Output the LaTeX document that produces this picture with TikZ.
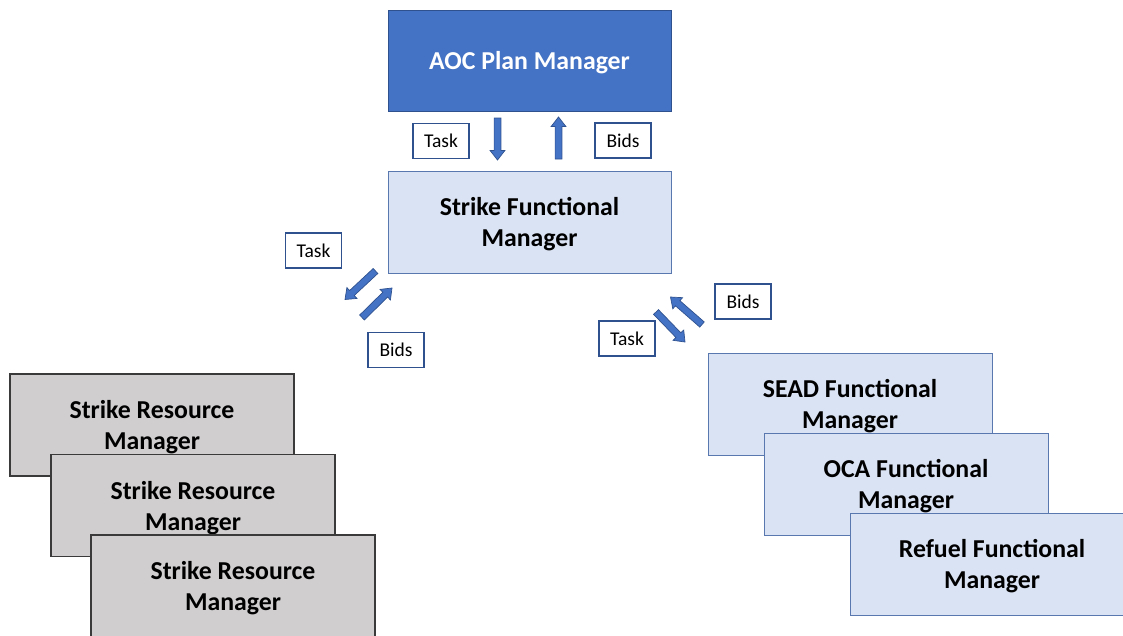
\documentclass[tikz,border=0pt]{standalone}
\usepackage{fontspec}
\setmainfont{Carlito}
\usetikzlibrary{calc}

\definecolor{accent}{HTML}{4472C4}
\definecolor{accentdark}{HTML}{2F528F}
\definecolor{paleblue}{HTML}{DAE3F3}
\definecolor{paleedge}{HTML}{5A78B0}
\definecolor{greyfill}{HTML}{D0CECE}
\definecolor{greyedge}{HTML}{3A3A3A}

\tikzset{
  mgr/.style={rectangle, font=\bfseries\fontsize{25.8}{31}\selectfont, align=center, inner sep=0pt, text depth=0pt},
  planbox/.style={mgr, fill=accent, draw=accentdark, line width=1pt, text=white},
  funcbox/.style={mgr, fill=paleblue, draw=paleedge, line width=1pt, text=black},
  resbox/.style={mgr, fill=greyfill, draw=greyedge, line width=1.1pt, text=black},
  tag/.style={rectangle, fill=white, draw=accentdark, line width=1.5pt, font=\fontsize{19.5}{23}\selectfont, minimum width=56pt, minimum height=35pt, inner sep=0pt},
  barrow/.style={fill=accent, draw=accentdark, line width=0.7pt, line join=miter},
}

% block arrow from tail #1 to tip #2, #3 is a unique prefix
\newcommand\blockarrow[3]{%
  \coordinate (#3neck) at ($(#2)!9.5pt!(#1)$);
  \filldraw[barrow]
    ($(#1)!3.4pt!90:(#2)$) -- ($(#3neck)!3.4pt!90:(#2)$) --
    ($(#3neck)!7.4pt!90:(#2)$) -- (#2) --
    ($(#3neck)!7.4pt!-90:(#2)$) -- ($(#3neck)!3.4pt!-90:(#2)$) --
    ($(#1)!3.4pt!-90:(#2)$) -- cycle;
}

\begin{document}
\begin{tikzpicture}[x=1pt,y=-1pt]
\useasboundingbox (0,0) rectangle (1123,635);

% top level planner
\node[planbox, minimum width=283pt, minimum height=101pt] (aoc) at (529.5,60.5) {AOC Plan Manager};
\node[funcbox, minimum width=283pt, minimum height=102pt] (sfm) at (529.5,222) {Strike Functional\\Manager};

% stacked resource managers (left)
\node[resbox, minimum width=284pt, minimum height=102pt] (res1) at (152,425) {Strike Resource\\Manager};
\node[resbox, minimum width=284pt, minimum height=102pt] (res2) at (193,505.5) {Strike Resource\\Manager};
\node[resbox, minimum width=284pt, minimum height=102pt] (res3) at (233,586) {Strike Resource\\Manager};

% stacked functional managers (right)
\node[funcbox, minimum width=284pt, minimum height=102pt] (sead) at (850,404) {SEAD Functional\\Manager};
\node[funcbox, minimum width=284pt, minimum height=102pt] (oca) at (906,484) {OCA Functional\\Manager};
\node[funcbox, minimum width=284pt, minimum height=102pt] (refuel) at (992,564) {Refuel Functional\\Manager};

% message labels
\node[tag] (t1) at (441,141) {Task};
\node[tag] (b1) at (623,140.5) {Bids};
\node[tag] (t2) at (313.5,250.5) {Task};
\node[tag] (b2) at (396,350) {Bids};
\node[tag] (b3) at (743,301.5) {Bids};
\node[tag] (t3) at (627,338.5) {Task};

% exchange arrows between aoc and sfm
\coordinate (d1a) at (497.5,118);
\coordinate (d1b) at (497.5,160);
\coordinate (u1a) at (558.5,159);
\coordinate (u1b) at (558.5,117);
\blockarrow{d1a}{d1b}{ad}
\blockarrow{u1a}{u1b}{au}

% exchange arrows between sfm and resource managers
\coordinate (d2a) at (375.5,271);
\coordinate (d2b) at (345,299.5);
\coordinate (u2a) at (362,317.5);
\coordinate (u2b) at (392,288);
\blockarrow{d2a}{d2b}{ld}
\blockarrow{u2a}{u2b}{lu}

% exchange arrows between sfm and functional managers
\coordinate (d3a) at (656,312);
\coordinate (d3b) at (685,342);
\coordinate (u3a) at (702,324.5);
\coordinate (u3b) at (670.5,297);
\blockarrow{d3a}{d3b}{rd}
\blockarrow{u3a}{u3b}{ru}
\end{tikzpicture}
\end{document}
